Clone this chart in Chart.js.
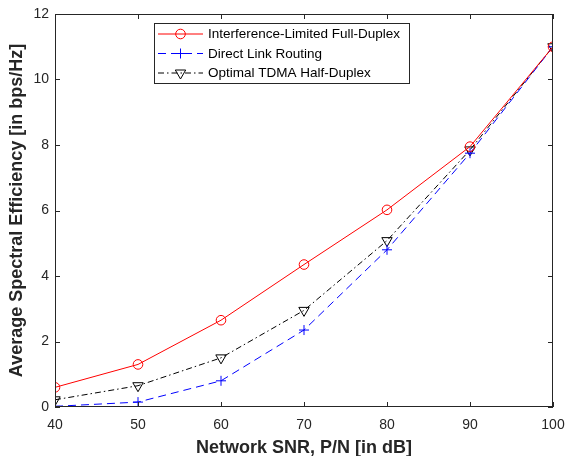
<!DOCTYPE html>
<html>
<head>
<meta charset="utf-8">
<script src="https://cdn.jsdelivr.net/npm/chart.js@4"></script>
<style>
  html, body { margin: 0; padding: 0; background: #fff; }
  #wrap { width: 565px; height: 456px; }
</style>
</head>
<body>
<div id="wrap"><canvas id="chart"></canvas></div>
<script>
const snrValues = [40, 50, 60, 70, 80, 90, 100];
const fullDuplex = [0.6, 1.3, 2.65, 4.35, 6.02, 7.95, 11.0];
const directLink = [0.02, 0.15, 0.8, 2.35, 4.8, 7.75, 11.0];
const tdmaHalf = [0.22, 0.65, 1.5, 2.95, 5.08, 7.85, 11.0];
const xTicks = [40, 50, 60, 70, 80, 90, 100];
const yTicks = [0, 2, 4, 6, 8, 10, 12];

const axisColor = '#262626';
const fontFamily = '"Liberation Sans", Arial, sans-serif';

function toPoints(values) {
    return snrValues.map((x, i) => ({ x: x, y: values[i] }));
}

// MATLAB style box with inward ticks plus the legend inside the plot
const boxPlugin = {
    id: 'matlabBox',
    afterDraw(chart) {
        const ctx = chart.ctx;
        const area = chart.chartArea;
        const xs = chart.scales.x;
        const ys = chart.scales.y;
        ctx.save();
        ctx.strokeStyle = axisColor;
        ctx.lineWidth = 1;
        ctx.strokeRect(area.left + 0.5, area.top + 0.5, area.right - area.left - 1, area.bottom - area.top - 1);
        ctx.beginPath();
        xTicks.forEach(v => {
            const px = Math.round(xs.getPixelForValue(v)) + 0.5;
            ctx.moveTo(px, area.bottom);
            ctx.lineTo(px, area.bottom - 5);
            ctx.moveTo(px, area.top);
            ctx.lineTo(px, area.top + 5);
        });
        yTicks.forEach(v => {
            const py = Math.round(ys.getPixelForValue(v)) + 0.5;
            ctx.moveTo(area.left, py);
            ctx.lineTo(area.left + 5, py);
            ctx.moveTo(area.right, py);
            ctx.lineTo(area.right - 5, py);
        });
        ctx.stroke();

        // legend
        const lx = 154, ly = 23, lw = 255, lh = 60;
        ctx.fillStyle = '#fff';
        ctx.fillRect(lx, ly, lw, lh);
        ctx.strokeStyle = axisColor;
        ctx.strokeRect(lx + 0.5, ly + 0.5, lw, lh);
        const rows = [34, 53.5, 73];
        chart.data.datasets.forEach((ds, i) => {
            const y = rows[i];
            ctx.strokeStyle = ds.borderColor;
            ctx.lineWidth = 1;
            ctx.setLineDash(ds.borderDash || []);
            ctx.beginPath();
            ctx.moveTo(158, y);
            ctx.lineTo(203, y);
            ctx.stroke();
            ctx.setLineDash([]);
            ctx.fillStyle = 'rgba(0,0,0,0)';
            Chart.helpers.drawPoint(ctx, {
                pointStyle: ds.pointStyle,
                radius: ds.pointRadius,
                rotation: ds.pointRotation || 0,
                borderWidth: 1
            }, 180.5, y);
            ctx.fillStyle = '#000';
            ctx.font = '13.5px ' + fontFamily;
            ctx.textBaseline = 'middle';
            ctx.textAlign = 'left';
            ctx.fillText(ds.label, 208, y + 0.5);
        });
        ctx.restore();
    }
};

new Chart(document.getElementById('chart'), {
    type: 'line',
    data: {
        datasets: [{
            label: 'Interference-Limited Full-Duplex',
            data: toPoints(fullDuplex),
            borderColor: '#ff0000',
            backgroundColor: 'rgba(0,0,0,0)',
            pointStyle: 'circle',
            pointRadius: 4.8,
            pointBorderColor: '#ff0000',
            pointBackgroundColor: 'rgba(0,0,0,0)',
            borderWidth: 1,
            pointBorderWidth: 1
        }, {
            label: 'Direct Link Routing',
            data: toPoints(directLink),
            borderColor: '#0000ff',
            backgroundColor: 'rgba(0,0,0,0)',
            borderDash: [8, 5],
            pointStyle: 'cross',
            pointRadius: 5,
            pointBorderColor: '#0000ff',
            borderWidth: 1,
            pointBorderWidth: 1
        }, {
            label: 'Optimal TDMA Half-Duplex',
            data: toPoints(tdmaHalf),
            borderColor: '#000000',
            backgroundColor: 'rgba(0,0,0,0)',
            borderDash: [6, 3, 1.5, 3],
            pointStyle: 'triangle',
            pointRotation: 180,
            pointRadius: 6,
            pointBorderColor: '#000000',
            pointBackgroundColor: 'rgba(0,0,0,0)',
            borderWidth: 1,
            pointBorderWidth: 1
        }]
    },
    options: {
        responsive: true,
        maintainAspectRatio: false,
        animation: false,
        layout: { padding: { left: 0, top: 14, right: 12, bottom: 0 } },
        plugins: {
            legend: { display: false },
            tooltip: { enabled: false }
        },
        elements: { line: { tension: 0 } },
        scales: {
            x: {
                type: 'linear',
                min: 40,
                max: 100,
                afterFit: scale => {
                    scale.height = 49;
                    scale.paddingLeft = 0;
                    scale.paddingRight = 0;
                },
                afterBuildTicks: scale => { scale.ticks = xTicks.map(v => ({ value: v })); },
                grid: { display: false, drawTicks: false },
                border: { display: false },
                ticks: {
                    color: axisColor,
                    padding: 10,
                    maxRotation: 0,
                    font: { size: 14, family: fontFamily }
                },
                title: {
                    display: true,
                    text: 'Network SNR, P/N [in dB]',
                    color: axisColor,
                    padding: { top: 4, bottom: -3 },
                    font: { size: 18, weight: 'bold', family: fontFamily }
                }
            },
            y: {
                min: 0,
                max: 12,
                afterFit: scale => {
                    scale.width = 55;
                    scale.paddingTop = 0;
                    scale.paddingBottom = 0;
                },
                afterBuildTicks: scale => { scale.ticks = yTicks.map(v => ({ value: v })); },
                grid: { display: false, drawTicks: false },
                border: { display: false },
                ticks: {
                    color: axisColor,
                    padding: 6,
                    font: { size: 14, family: fontFamily }
                },
                title: {
                    display: true,
                    text: 'Average Spectral Efficiency [in bps/Hz]',
                    color: axisColor,
                    padding: { top: 6, bottom: 0 },
                    font: { size: 18, weight: 'bold', family: fontFamily }
                }
            }
        }
    },
    plugins: [boxPlugin]
});
</script>
</body>
</html>
